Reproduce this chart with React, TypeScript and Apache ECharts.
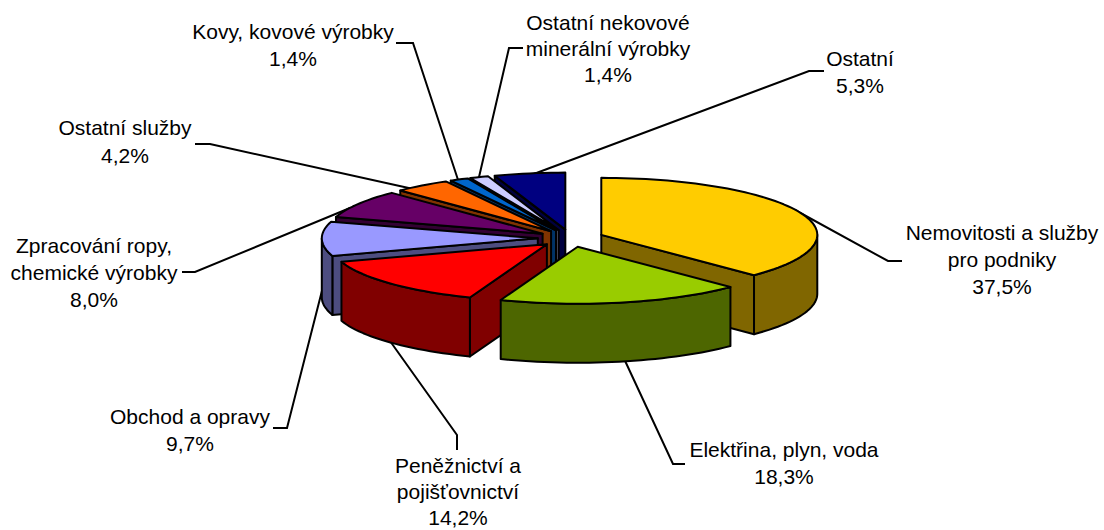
import React, { useEffect, useRef } from "react";
import * as echarts from "echarts";

const CATEGORIES = [
  "Nemovitosti a služby\npro podniky",
  "Elektřina, plyn, voda",
  "Peněžnictví a\npojišťovnictví",
  "Obchod a opravy",
  "Zpracování ropy,\nchemické výrobky",
  "Ostatní služby",
  "Kovy, kovové výrobky",
  "Ostatní nekovové\nminerální výrobky",
  "Ostatní",
];
const VALUES = [37.5, 18.3, 14.2, 9.7, 8.0, 4.2, 1.4, 1.4, 5.3];
const TOP_COLORS = ["#FFCC00", "#99CC00", "#FF0000", "#9999FF", "#660066", "#FF6600", "#0066CC", "#CCCCFF", "#000080"];
const SIDE_COLORS = ["#806600", "#4D6600", "#800000", "#4D4D80", "#330033", "#803300", "#003366", "#666680", "#000040"];

// Layout of the projected pie
const CX = 570.8, CY = 238.2, RX = 216, RY = 57, DEPTH = 59, EXPLODE = 33;
const LINE = "#000000";
// label centre x, first line's centre y, line height
const LABEL_POS: number[][] = [
  [1002, 232, 27], [784, 449, 27], [458, 465, 26], [190, 416, 27], [94, 245, 27], [125, 127, 28], [293, 31, 27], [608, 22, 26], [860, 58, 27],
];
const LEADERS: number[][][] = [
  [[902, 261], [888, 261], [795, 210]],
  [[685, 464], [673, 464], [620, 350]],
  [[457, 450], [457, 435], [385, 334]],
  [[273, 428], [287, 428], [326, 275]],
  [[182, 272], [195, 272], [350, 208]],
  [[195, 144], [210, 144], [420, 190.5]],
  [[396, 43], [413, 43], [462, 192]],
  [[523, 48], [509, 48], [476, 190]],
  [[824, 71], [809, 71], [515, 181]],
];

const TOTAL = VALUES.reduce((a, b) => a + b, 0);
const STARTS = VALUES.map((_, i) => (VALUES.slice(0, i).reduce((a, b) => a + b, 0) / TOTAL) * 360);
const ENDS = VALUES.map((v, i) => STARTS[i] + (v / TOTAL) * 360);
const rad = (d: number) => (d * Math.PI) / 180;
const DRAW_RANK = VALUES.map((_, i) => rad((STARTS[i] + ENDS[i]) / 2))
  .map((m, i) => ({ i, k: -Math.cos(m) }))
  .sort((a, b) => a.k - b.k)
  .reduce((acc: number[], o, r) => { acc[o.i] = r; return acc; }, []);

function renderSlice(params: any) {
  const i = params.dataIndex;
  const a0 = STARTS[i], a1 = ENDS[i];
  const mid = rad((a0 + a1) / 2);
  const ax = CX + EXPLODE * Math.sin(mid);
  const ay = CY - EXPLODE * (RY / RX) * Math.cos(mid);
  const pt = (a: number, dz = 0) => [ax + RX * Math.sin(rad(a)), ay - RY * Math.cos(rad(a)) + dz];
  const arc = (from: number, to: number, dz = 0) => {
    const n = Math.max(2, Math.ceil(Math.abs(to - from) / 2));
    const out: number[][] = [];
    for (let s = 0; s <= n; s++) out.push(pt(from + ((to - from) * s) / n, dz));
    return out;
  };
  const base = DRAW_RANK[i] * 10;
  const style = (fill: string) => ({ fill, stroke: LINE, lineWidth: 2, lineJoin: "round" as const });
  const children: any[] = [];
  const side = SIDE_COLORS[i];
  const wall = (a: number) => ({
    type: "polygon",
    z2: base + 1,
    shape: { points: [[ax, ay], pt(a), pt(a, DEPTH), [ax, ay + DEPTH]] },
    style: style(side),
  });
  // start wall faces viewer on the left half, end wall on the right half
  if (Math.sin(rad(a0)) < -1e-6) children.push(wall(a0));
  if (Math.sin(rad(a1)) > 1e-6) children.push(wall(a1));
  const f0 = Math.max(a0, 90), f1 = Math.min(a1, 270);
  if (f1 > f0) {
    children.push({
      type: "polygon",
      z2: base + 2,
      shape: { points: [...arc(f0, f1), ...arc(f1, f0, DEPTH)] },
      style: style(side),
    });
  }
  children.push({
    type: "polygon",
    z2: base + 3,
    shape: { points: [[ax, ay], ...arc(a0, a1)] },
    style: style(TOP_COLORS[i]),
  });
  return { type: "group", children };
}

function renderLabel(params: any) {
  const i = params.dataIndex;
  const text = `${CATEGORIES[i]}\n${VALUES[i].toFixed(1).replace(".", ",")}%`;
  const lh = LABEL_POS[i][2];
  return {
    type: "group",
    children: [
      {
        type: "polyline",
        shape: { points: LEADERS[i] },
        style: { fill: "none", stroke: LINE, lineWidth: 2 },
      },
      {
        type: "text",
        style: {
          x: LABEL_POS[i][0],
          y: LABEL_POS[i][1] - lh / 2,
          text,
          align: "center",
          verticalAlign: "top",
          lineHeight: lh,
          fontFamily: "Liberation Sans",
          fontSize: 21,
          fill: "#000000",
        },
      },
    ],
  };
}

export default function App() {
  const ref = useRef<HTMLDivElement>(null);
  useEffect(() => {
    document.body.style.margin = "0";
    const chart = echarts.init(ref.current!, undefined, { renderer: "svg" });
    chart.setOption({
      animation: false,
      backgroundColor: "#ffffff",
      tooltip: { show: false },
      series: [
        { type: "custom", coordinateSystem: "none", z: 1, silent: true, data: VALUES, renderItem: renderLabel },
        { type: "custom", coordinateSystem: "none", z: 2, silent: true, data: VALUES, renderItem: renderSlice },
      ],
    });
    return () => chart.dispose();
  }, []);
  return <div ref={ref} style={{ width: 1104, height: 530 }} />;
}
